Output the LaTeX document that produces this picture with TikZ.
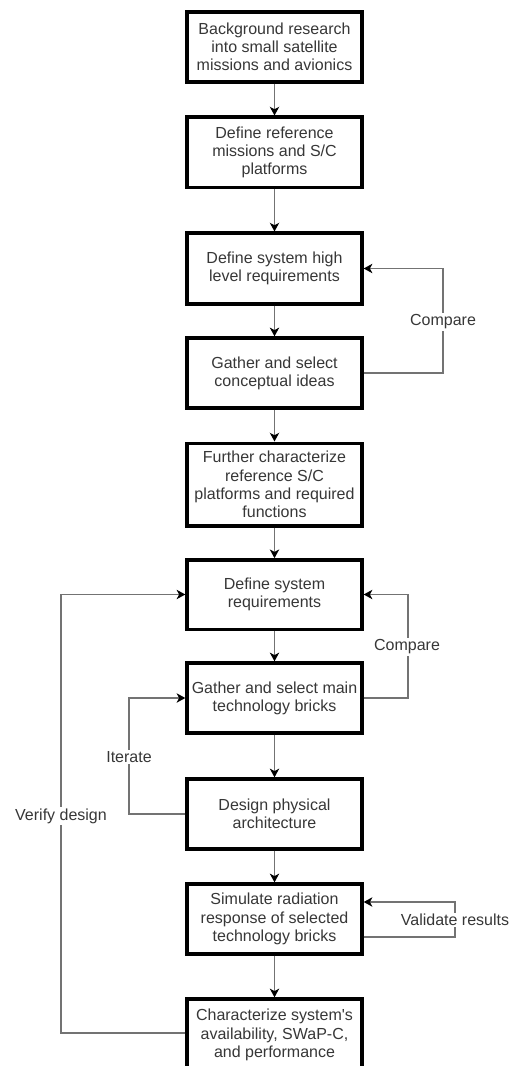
\documentclass[tikz,border=0pt]{standalone}
\usepackage{fontspec}
\setmainfont[Ligatures=TeXOff]{Liberation Sans}
\usetikzlibrary{arrows.meta}
\definecolor{linkgrey}{RGB}{115,115,115}
\definecolor{txtgrey}{RGB}{55,55,55}
\begin{document}
\begin{tikzpicture}[x=0.75pt,y=-0.75pt,
  font=\fontsize{12}{13.7}\selectfont,
  stepbox/.style={draw=black,line width=2.5pt,fill=white,text=txtgrey,align=center,
    minimum width=131.25pt,inner sep=2pt},
  flow/.style={draw=linkgrey,line width=0.95pt,
    -{Stealth[length=6.5pt,width=7pt,inset=1.8pt,color=black]}},
  loop/.style={flow},
  looplabel/.style={fill=white,text=txtgrey,inner sep=1pt,align=center}]
\useasboundingbox (0,0) rectangle (509,1066);

% process steps
\node[stepbox,minimum height=52.5pt] (b1) at (274.5,47) {Background research\\into small satellite\\missions and avionics};
\node[stepbox,minimum height=53pt] (b2) at (274.5,152.5) {Define reference\\missions and S/C\\platforms};
\node[stepbox,minimum height=53pt] (b3) at (274.5,268.5) {Define system high\\level requirements};
\node[stepbox,minimum height=52.5pt] (b4) at (274.5,373) {Gather and select\\conceptual ideas};
\node[stepbox,minimum height=62pt] (b5) at (274.5,484.5) {Further characterize\\reference S/C\\platforms and required\\functions};
\node[stepbox,minimum height=52pt] (b6) at (274.5,594.5) {Define system\\requirements};
\node[stepbox,minimum height=52.5pt] (b7) at (274.5,698) {Gather and select main\\technology bricks};
\node[stepbox,minimum height=52.5pt] (b8) at (274.5,814) {Design physical\\architecture};
\node[stepbox,minimum height=52.5pt] (b9) at (274.5,919) {Simulate radiation\\response of selected\\technology bricks};
\node[stepbox,minimum height=54pt] (b10) at (274.5,1035) {Characterize system's\\availability, SWaP-C,\\and performance};

% main sequence
\draw[flow] (b1) -- (b2);
\draw[flow] (b2) -- (b3);
\draw[flow] (b3) -- (b4);
\draw[flow] (b4) -- (b5);
\draw[flow] (b5) -- (b6);
\draw[flow] (b6) -- (b7);
\draw[flow] (b7) -- (b8);
\draw[flow] (b8) -- (b9);
\draw[flow] (b9) -- (b10);

% feedback loops
\coordinate (k1) at (443,320);
\draw[loop] (b4.east) -| (k1) |- (b3.east);
\node[looplabel] (l1) at (443,322) {Compare};

\coordinate (k2) at (408,646);
\draw[loop] (b7.east) -| (k2) |- (b6.east);
\node[looplabel] (l2) at (407,647) {Compare};

\coordinate (k3) at (129,757);
\draw[loop] (b8.west) -| (k3) |- (b7.west);
\node[looplabel] (l3) at (129,757) {Iterate};

\coordinate (k4) at (61,816);
\draw[loop] ([yshift=1.5pt]b10.west) -| (k4) |- (b6.west);
\node[looplabel] (l4) at (61,816) {Verify design};

\coordinate (k5) at (455,920);
\draw[loop] ([yshift=-13.5pt]b9.east) -| (k5) |- ([yshift=12.75pt]b9.east);
\node[looplabel] (l5) at (455,920) {Validate results};
\end{tikzpicture}
\end{document}
